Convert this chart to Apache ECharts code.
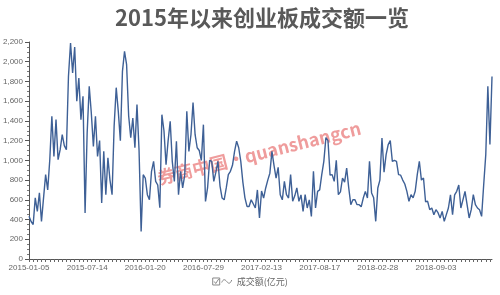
<!DOCTYPE html>
<html>
<head>
<meta charset="utf-8">
<script src="https://cdn.jsdelivr.net/npm/echarts@6/dist/echarts.min.js"></script>
<style>
  html, body { margin: 0; padding: 0; background: #fff; }
  #chart { width: 500px; height: 295px; }
</style>
</head>
<body>
<div id="chart"></div>
<script>
// Tick label dates (one every 28 sampled points)
const tickLabels = ['2015-01-05','2015-07-14','2016-01-20','2016-07-29','2017-02-13','2017-08-17','2018-02-28','2018-09-03'];

const amountSeg1 = [433,380,350,620,483,670,380,620,855,700,1007,1447,1040,1413,1007,1108,1260,1150,1108,1852,2190,1886,2150,1599,1835,1413,1650,466];
const amountSeg2 = [1277,1750,1480,1142,1447,1040,1200,568,1091,652,1027,800,652,1350,1737,1497,1200,1902,2105,1970,1450,1230,1430,1128,1565,1100,280,855];
const amountSeg3 = [821,652,600,889,990,787,750,520,1463,1300,956,1200,1395,990,787,1194,652,889,720,850,1497,1091,1260,1585,1260,1128,1100,1000];
const amountSeg4 = [1362,584,720,1000,990,787,880,990,740,618,600,720,855,889,950,1091,1194,1128,990,780,620,533,533,600,560,517,700,416];
const amountSeg5 = [690,618,720,800,870,1091,950,821,930,652,600,787,652,618,855,585,640,720,585,650,483,652,517,600,432,889,517,686];
const amountSeg6 = [700,855,990,1230,1200,850,855,787,1000,652,680,821,780,922,720,551,600,600,551,551,530,618,686,618,990,670,620,382];
const amountSeg7 = [720,800,1227,880,1058,1159,1200,990,1000,990,855,850,800,760,686,585,652,620,686,855,990,800,821,580,585,500,517,449];
const amountSeg8 = [500,470,416,483,382,450,517,650,449,650,686,750,517,600,686,551,416,500,652,551,517,500,432,753,1058,1750,1160,1850];

const segments = [amountSeg1, amountSeg2, amountSeg3, amountSeg4, amountSeg5, amountSeg6, amountSeg7, amountSeg8];
const amounts = [].concat(...segments);

// Category dates: each segment runs from its tick label date to the next one
function addDays(s, d) {
  const t = new Date(s + 'T00:00:00Z');
  t.setUTCDate(t.getUTCDate() + d);
  return t.toISOString().slice(0, 10);
}
function dayDiff(a, b) {
  return Math.round((new Date(b + 'T00:00:00Z') - new Date(a + 'T00:00:00Z')) / 86400000);
}
const dates = [];
segments.forEach((seg, k) => {
  const start = tickLabels[k];
  const span = k + 1 < tickLabels.length ? dayDiff(start, tickLabels[k + 1]) : 7 * seg.length;
  for (let j = 0; j < seg.length; j++) {
    dates.push(addDays(start, Math.round(j * span / seg.length)));
  }
});

const chart = echarts.init(document.getElementById('chart'), null, { renderer: 'canvas' });
chart.setOption({
  animation: false,
  backgroundColor: '#fff',
  title: {
    text: '2015年以来创业板成交额一览',
    left: 257,
    top: 2,
    textAlign: 'center',
    textStyle: {
      fontFamily: '"Noto Sans CJK SC", sans-serif',
      fontSize: 22,
      fontWeight: 'bold',
      color: '#595959'
    }
  },
  legend: {
    data: ['成交额(亿元)'],
    bottom: 4,
    left: 'center',
    icon: 'path://M0.5,1.5 L7.5,1.5 L7.5,8.5 L0.5,8.5 Z M2,5 L3.5,7 L6.5,2.5 M9.5,6 C11,2.5 12.5,2.5 14.5,5 C16.5,7.5 18,7.5 19.5,3.5',
    itemWidth: 19,
    itemHeight: 8,
    itemStyle: { color: 'transparent', borderColor: '#888', borderWidth: 1 },
    textStyle: {
      fontFamily: '"Noto Sans CJK SC", sans-serif',
      fontSize: 9,
      color: '#666'
    }
  },
  grid: { left: 28, right: 8, top: 42, bottom: 36, containLabel: false },
  xAxis: {
    type: 'category',
    data: dates,
    boundaryGap: false,
    axisLine: { lineStyle: { color: '#555', width: 1 } },
    axisTick: { show: true, interval: 1, length: 3, lineStyle: { color: '#666' } },
    axisLabel: {
      interval: 27,
      fontSize: 8,
      color: '#666',
      margin: 5,
      fontFamily: '"Liberation Sans", Arial, sans-serif'
    },
    splitLine: { show: false }
  },
  yAxis: {
    type: 'value',
    min: 0,
    max: 2200,
    interval: 200,
    axisLine: { show: true, lineStyle: { color: '#555', width: 1 } },
    axisTick: { show: true, length: 4, lineStyle: { color: '#555' } },
    minorTick: { show: true, splitNumber: 4, length: 2, lineStyle: { color: '#777' } },
    splitLine: { show: false },
    minorSplitLine: { show: false },
    axisLabel: {
      fontSize: 8,
      color: '#666',
      margin: 6,
      fontFamily: '"Liberation Sans", Arial, sans-serif',
      formatter: v => v.toLocaleString('en-US')
    }
  },
  graphic: [{
    type: 'text',
    x: 259,
    y: 153,
    rotation: 14 * Math.PI / 180,
    z: 1,
    silent: true,
    style: {
      text: '券商中国·quanshangcn',
      fill: 'rgba(228,90,90,0.6)',
      font: 'bold 18px "Noto Sans CJK SC", sans-serif',
      align: 'center',
      verticalAlign: 'middle'
    }
  }],
  series: [{
    name: '成交额(亿元)',
    type: 'line',
    data: amounts,
    symbol: 'none',
    z: 3,
    lineStyle: { color: '#3e6096', width: 1.4 },
    itemStyle: { color: '#3e6096' }
  }]
});
</script>
</body>
</html>
